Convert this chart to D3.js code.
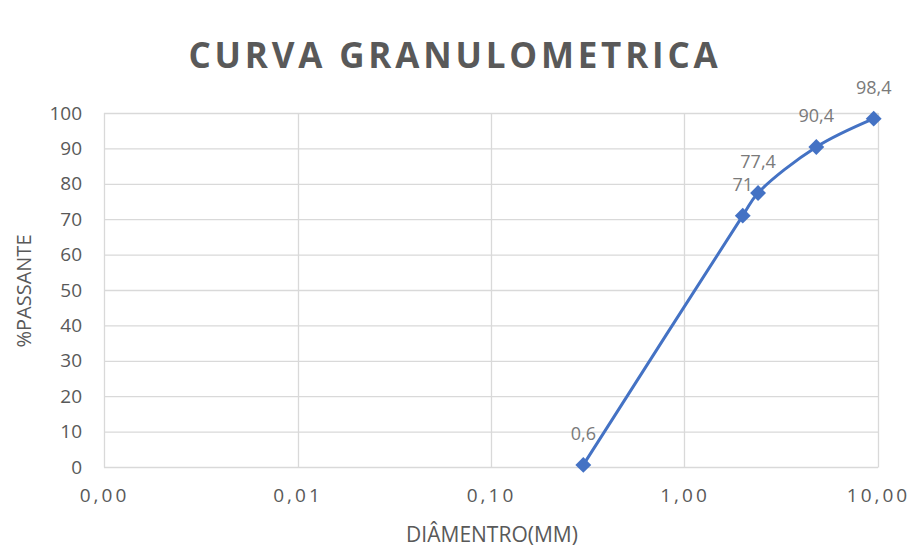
<!DOCTYPE html>
<html>
<head>
<meta charset="utf-8">
<script src="https://cdn.jsdelivr.net/npm/d3@7"></script>
<style>
  html, body { margin: 0; padding: 0; background: #fff; }
  svg { display: block; }
  text { font-family: "Open Sans", "DejaVu Sans", sans-serif; fill: #595959; }
</style>
</head>
<body>
<svg id="chart" width="923" height="551"></svg>
<script>
// ---- data ----
const diameters = [0.3, 2.0, 2.4, 4.8, 9.5];          // mm
const passing   = [0.6, 71, 77.4, 90.4, 98.4];        // %
const pointLabels = ["0,6", "71", "77,4", "90,4", "98,4"];
const xTicks = [0.001, 0.01, 0.1, 1, 10];
const xTickLabels = ["0,00", "0,01", "0,10", "1,00", "10,00"];
const yTicks = [0, 10, 20, 30, 40, 50, 60, 70, 80, 90, 100];
const titleText = "CURVA GRANULOMETRICA";
const xTitle = "DIÂMENTRO(MM)";
const yTitle = "%PASSANTE";

const svg = d3.select("#chart");
const plotLeft = 104, plotRight = 878, plotTop = 113, plotBottom = 467;

const x = d3.scaleLog().domain([0.001, 10]).range([plotLeft, plotRight]);
const y = d3.scaleLinear().domain([0, 100]).range([plotBottom, plotTop]);

// gridlines
const grid = svg.append("g");
grid.selectAll("line.h").data(yTicks).join("line")
  .attr("x1", plotLeft).attr("x2", plotRight)
  .attr("y1", d => y(d) + 0.5).attr("y2", d => y(d) + 0.5)
  .attr("stroke", "#d9d9d9").attr("stroke-width", 1.3);
grid.selectAll("line.v").data(xTicks).join("line")
  .attr("x1", d => Math.round(x(d)) + 0.5).attr("x2", d => Math.round(x(d)) + 0.5)
  .attr("y1", plotTop).attr("y2", plotBottom + 0.5)
  .attr("stroke", "#d9d9d9").attr("stroke-width", 1.3);

// axes (labels only)
const yAxis = d3.axisLeft(y).tickValues(yTicks).tickSize(0).tickPadding(22);
svg.append("g").attr("transform", `translate(${plotLeft},0)`).call(yAxis)
  .call(g => g.select(".domain").remove())
  .selectAll("text")
  .style("font-size", "19px").attr("dy", "0.32em")
  .attr("font-family", "Open Sans");

const xAxis = d3.axisBottom(x).tickValues(xTicks).tickFormat((d, i) => xTickLabels[i]).tickSize(0).tickPadding(22);
svg.append("g").attr("transform", `translate(0,${plotBottom})`).call(xAxis)
  .call(g => g.select(".domain").remove())
  .selectAll("text")
  .style("font-size", "19px").style("letter-spacing", "3px")
  .attr("font-family", "Open Sans");

// title
svg.append("text").attr("x", 455).attr("y", 68).attr("text-anchor", "middle")
  .style("font-size", "35px").style("font-weight", "700").style("letter-spacing", "3.8px")
  .text(titleText);

// axis titles
svg.append("text").attr("x", 492).attr("y", 542).attr("text-anchor", "middle")
  .style("font-size", "21px").text(xTitle);
svg.append("text").attr("transform", "translate(31,291) rotate(-90)").attr("text-anchor", "middle")
  .style("font-size", "20px").text(yTitle);

// line
const data = diameters.map((d, i) => ({ d, p: passing[i], label: pointLabels[i] }));
const line = d3.line().x(d => x(d.d)).y(d => y(d.p)).curve(d3.curveCatmullRom.alpha(0.5));
svg.append("path").datum(data).attr("d", line)
  .attr("fill", "none").attr("stroke", "#4472c4").attr("stroke-width", 3);

// markers
svg.selectAll("path.m").data(data).join("path")
  .attr("d", d3.symbol().type(d3.symbolDiamond2).size(160))
  .attr("transform", d => `translate(${x(d.d)},${y(d.p)})`)
  .attr("fill", "#4472c4");

// data labels
svg.selectAll("text.lbl").data(data).join("text")
  .attr("x", d => x(d.d)).attr("y", d => y(d.p) - 25)
  .attr("text-anchor", "middle")
  .style("font-size", "18px").style("fill", "#7a7a7a")
  .text(d => d.label);
</script>
</body>
</html>
